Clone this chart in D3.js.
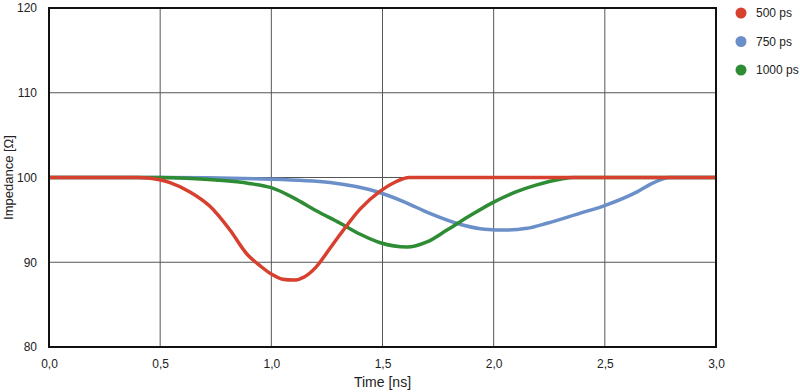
<!DOCTYPE html>
<html>
<head>
<meta charset="utf-8">
<script src="https://cdn.jsdelivr.net/npm/d3@7"></script>
<style>
  body { margin: 0; background: #fff; }
  text { font-family: "Liberation Sans", Arial, sans-serif; fill: #222; }
</style>
</head>
<body>
<div class="canvas"></div>
<script>
// series data: [time ns, impedance ohm]
const series500 = [
    [0, 100], [0.4, 100], [0.454, 99.9], [0.544, 99.4], [0.634, 98.3], [0.724, 96.6],
    [0.814, 93.8], [0.889, 91.0], [0.949, 89.6], [1.0, 88.6], [1.05, 88.0], [1.1, 87.9],
    [1.15, 88.3], [1.2, 89.4], [1.26, 91.5], [1.31, 93.3], [1.4, 96.3], [1.49, 98.4],
    [1.56, 99.5], [1.62, 100], [3.0, 100]
];
const series750 = [
    [0, 100], [0.5, 100], [1.0, 99.8], [1.264, 99.4], [1.49, 98.2], [1.6, 97.1],
    [1.71, 95.8], [1.86, 94.4], [1.96, 93.9], [2.06, 93.8], [2.15, 94.0], [2.24, 94.6],
    [2.39, 95.8], [2.49, 96.6], [2.645, 98.3], [2.72, 99.4], [2.79, 100], [3.0, 100]
];
const series1000 = [
    [0, 100], [0.5, 100], [0.75, 99.7], [0.9, 99.3], [1.0, 98.8], [1.1, 97.6], [1.2, 96.1],
    [1.31, 94.6], [1.4, 93.3], [1.49, 92.3], [1.61, 91.8], [1.7, 92.4], [1.79, 93.8],
    [1.9, 95.6], [2.0, 97.1], [2.1, 98.3], [2.19, 99.1], [2.3, 99.8], [2.36, 100], [3.0, 100]
];

const seriesNames = ['500 ps', '750 ps', '1000 ps'];
const seriesColors = ['#d7402f', '#6b8fc9', '#2e8c34'];
const xTicks = [0, 0.5, 1, 1.5, 2, 2.5, 3];
const yTicks = [80, 90, 100, 110, 120];

const width = 800, height = 392;
const margin = { top: 8, right: 84, bottom: 45, left: 49 };
const graphWidth = width - margin.left - margin.right;
const graphHeight = height - margin.top - margin.bottom;

const svg = d3.select('.canvas')
    .append('svg')
    .attr('width', width)
    .attr('height', height);

const graph = svg.append('g')
    .attr('transform', `translate(${margin.left}, ${margin.top})`);

const x = d3.scaleLinear().domain([0, 3]).range([0, graphWidth]);
const y = d3.scaleLinear().domain([80, 120]).range([graphHeight, 0]);

const fmt = d => d3.format('.1f')(d).replace('.', ',');

// grid lines
graph.append('g')
    .selectAll('line')
    .data(xTicks.slice(1, -1))
    .enter().append('line')
    .attr('x1', d => x(d)).attr('x2', d => x(d))
    .attr('y1', 0).attr('y2', graphHeight)
    .attr('stroke', '#555').attr('stroke-width', 1);

graph.append('g')
    .selectAll('line')
    .data(yTicks.slice(1, -1))
    .enter().append('line')
    .attr('x1', 0).attr('x2', graphWidth)
    .attr('y1', d => y(d)).attr('y2', d => y(d))
    .attr('stroke', '#555').attr('stroke-width', 1);

// axes (labels only)
const xAxis = d3.axisBottom(x).tickValues(xTicks).tickFormat(fmt).tickSize(0).tickPadding(12);
const yAxis = d3.axisLeft(y).tickValues(yTicks).tickSize(0).tickPadding(12);

const xAxisGroup = graph.append('g')
    .attr('transform', `translate(0, ${graphHeight})`)
    .call(xAxis);
const yAxisGroup = graph.append('g').call(yAxis);

[xAxisGroup, yAxisGroup].forEach(g => {
    g.select('.domain').remove();
    g.selectAll('text').attr('font-size', 12).attr('fill', '#222')
        .attr('font-family', '"Liberation Sans", Arial, sans-serif');
});

// lines (red drawn last, on top)
const line = d3.line()
    .x(d => x(d[0]))
    .y(d => y(d[1]))
    .curve(d3.curveMonotoneX);

const allSeries = [series500, series750, series1000];
[1, 2, 0].forEach(i => {
    graph.append('path')
        .datum(allSeries[i])
        .attr('fill', 'none')
        .attr('stroke', seriesColors[i])
        .attr('stroke-width', 3.5)
        .attr('stroke-linejoin', 'round')
        .attr('d', line);
});

// frame
graph.append('rect')
    .attr('width', graphWidth)
    .attr('height', graphHeight)
    .attr('fill', 'none')
    .attr('stroke', '#111')
    .attr('stroke-width', 2);

// axis titles
svg.append('text')
    .attr('x', margin.left + graphWidth / 2)
    .attr('y', 387)
    .attr('text-anchor', 'middle')
    .attr('font-size', 14)
    .text('Time [ns]');

svg.append('text')
    .attr('transform', `translate(13, ${margin.top + graphHeight / 2}) rotate(-90)`)
    .attr('text-anchor', 'middle')
    .attr('font-size', 13)
    .text('Impedance [Ω]');

// legend
const legend = svg.append('g')
    .selectAll('g')
    .data(seriesNames)
    .enter().append('g')
    .attr('transform', (d, i) => `translate(741, ${13 + i * 28.5})`);

legend.append('circle')
    .attr('r', 5.5)
    .attr('fill', (d, i) => seriesColors[i]);

legend.append('text')
    .attr('x', 15)
    .attr('dy', '0.35em')
    .attr('font-size', 12)
    .text(d => d);
</script>
</body>
</html>
